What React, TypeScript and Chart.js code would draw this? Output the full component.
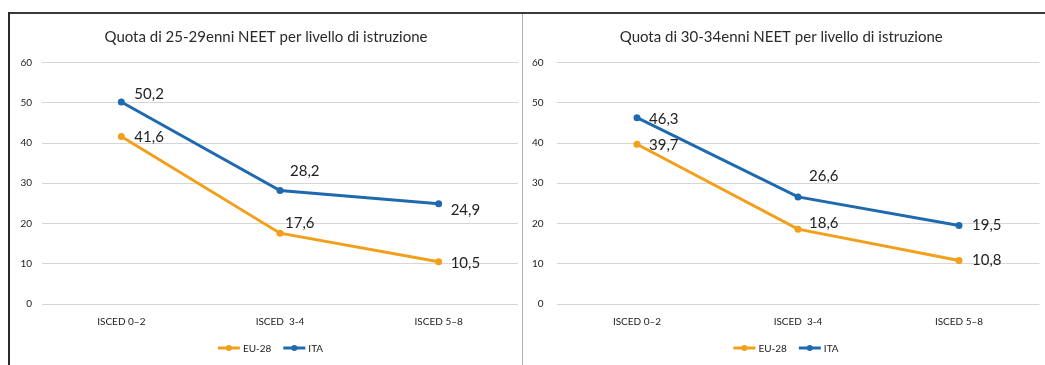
import React, { useEffect, useRef } from "react";
import { Chart, registerables } from "chart.js";
Chart.register(...registerables);

const categories = ["ISCED 0–2", "ISCED  3-4", "ISCED 5–8"];
const seriesNames = ["EU-28", "ITA"];
const eu28_25_29 = [41.6, 17.6, 10.5];
const ita_25_29 = [50.2, 28.2, 24.9];
const eu28_30_34 = [39.7, 18.6, 10.8];
const ita_30_34 = [46.3, 26.6, 19.5];
const titles = [
  "Quota di 25-29enni NEET per livello di istruzione",
  "Quota di 30-34enni NEET per livello di istruzione",
];
const yMin = 0;
const yMax = 60;
const yStep = 10;

const ORANGE = "#F2A01C";
const BLUE = "#1F6AAE";
const FONT = "Lato, 'Open Sans', sans-serif";

const fmt = (v: number) => v.toFixed(1).replace(".", ",");

const pointLabelsPlugin = {
  id: "pointLabels",
  afterDatasetsDraw(chart: any, _args: any, opts: any) {
    const ctx = chart.ctx;
    ctx.save();
    ctx.font = `15px ${FONT}`;
    ctx.fillStyle = "#222";
    ctx.textAlign = "left";
    ctx.textBaseline = "middle";
    chart.data.datasets.forEach((ds: any, di: number) => {
      const meta = chart.getDatasetMeta(di);
      meta.data.forEach((pt: any, i: number) => {
        const off = (opts.offsets && opts.offsets[di] && opts.offsets[di][i]) || [10, 0];
        ctx.fillText(fmt(ds.data[i]), pt.x + off[0], pt.y + off[1]);
      });
    });
    ctx.restore();
  },
};

const lineLegendPlugin = {
  id: "lineLegend",
  afterDraw(chart: any, _args: any, opts: any) {
    const ctx = chart.ctx;
    ctx.save();
    ctx.font = `10px ${FONT}`;
    const lineW = 22;
    const gap = 3;
    const itemGap = 12;
    const items = chart.data.datasets.map((ds: any) => ({
      label: ds.label,
      color: ds.borderColor,
      w: lineW + gap + ctx.measureText(ds.label).width,
    }));
    const total = items.reduce((s: number, it: any) => s + it.w, 0) + itemGap * (items.length - 1);
    let x = chart.width / 2 - total / 2 + (opts.shift || 0);
    const y = opts.y;
    items.forEach((it: any) => {
      ctx.strokeStyle = it.color;
      ctx.lineWidth = 3;
      ctx.beginPath();
      ctx.moveTo(x, y);
      ctx.lineTo(x + lineW, y);
      ctx.stroke();
      ctx.fillStyle = it.color;
      ctx.beginPath();
      ctx.arc(x + lineW / 2, y, 3, 0, Math.PI * 2);
      ctx.fill();
      ctx.fillStyle = "#222";
      ctx.textAlign = "left";
      ctx.textBaseline = "middle";
      ctx.fillText(it.label, x + lineW + gap, y + 0.5);
      x += it.w + itemGap;
    });
    ctx.restore();
  },
};

function makeConfig(title: string, eu: number[], ita: number[], lay: any): any {
  return {
    type: "line",
    data: {
      labels: categories,
      datasets: [
        {
          label: seriesNames[0],
          data: eu,
          borderColor: ORANGE,
          backgroundColor: ORANGE,
          borderWidth: 3,
          pointRadius: 3.5,
          pointBorderWidth: 0,
          tension: 0,
        },
        {
          label: seriesNames[1],
          data: ita,
          borderColor: BLUE,
          backgroundColor: BLUE,
          borderWidth: 3,
          pointRadius: 3.5,
          pointBorderWidth: 0,
          tension: 0,
        },
      ],
    },
    options: {
      responsive: false,
      animation: false,
      devicePixelRatio: 1,
      layout: { padding: { left: 0, right: lay.rightPad, top: 0, bottom: 31 } },
      plugins: {
        legend: { display: false },
        tooltip: { enabled: false },
        title: {
          display: true,
          text: title,
          color: "#2a2a2a",
          font: { family: FONT, size: 15, weight: "normal" },
          padding: { top: 14, bottom: 16.5 },
        },
        pointLabels: { offsets: lay.offsets },
        lineLegend: { y: 334, shift: lay.legendShift },
      },
      scales: {
        x: {
          offset: true,
          grid: { display: false, drawTicks: false },
          border: { display: false },
          ticks: { color: "#222", font: { family: FONT, size: 10 }, padding: 12 },
          afterFit(s: any) {
            s.height = 30;
          },
        },
        y: {
          min: yMin,
          max: yMax,
          ticks: {
            stepSize: yStep,
            color: "#222",
            font: { family: FONT, size: 10 },
            padding: lay.yPad,
          },
          grid: { color: "#d6d6d6", lineWidth: 1, drawTicks: false },
          border: { display: false },
          afterFit(s: any) {
            s.width = lay.yWidth;
          },
        },
      },
    },
    plugins: [pointLabelsPlugin, lineLegendPlugin],
  };
}

function ChartPanel(props: { config: any; width: number; height: number; left: number; top: number }) {
  const ref = useRef<HTMLCanvasElement | null>(null);
  useEffect(() => {
    if (!ref.current) return;
    const ch = new Chart(ref.current, props.config);
    return () => ch.destroy();
  }, []);
  return (
    <canvas
      ref={ref}
      width={props.width}
      height={props.height}
      style={{ position: "absolute", left: props.left, top: props.top, width: props.width, height: props.height }}
    />
  );
}

const leftLayout = {
  yWidth: 31,
  yPad: 10,
  rightPad: 1,
  legendShift: 4,
  offsets: [
    [[13, 1], [5, -10], [12, 1]],
    [[13, -8], [10, -19], [12, 6]],
  ],
};
const rightLayout = {
  yWidth: 33.5,
  yPad: 13,
  rightPad: 5.5,
  legendShift: 2,
  offsets: [
    [[12, 1], [11, -6], [13, 0]],
    [[12, 2], [11, -21], [13, 0]],
  ],
};

export default function App() {
  const leftCfg = makeConfig(titles[0], eu28_25_29, ita_25_29, leftLayout);
  const rightCfg = makeConfig(titles[1], eu28_30_34, ita_30_34, rightLayout);
  return (
    <div style={{ position: "absolute", left: 0, top: 0, width: 1045, height: 365, background: "#fff", overflow: "hidden" }}>
      <div style={{ position: "absolute", left: 9, top: 12, width: 1036, height: 2, background: "#3a3a3a" }} />
      <div style={{ position: "absolute", left: 8, top: 12, width: 2, height: 353, background: "#2a2a2a" }} />
      <div style={{ position: "absolute", left: 522, top: 14, width: 1, height: 351, background: "#b0b0b0" }} />
      <ChartPanel config={leftCfg} width={511} height={351} left={11} top={14} />
      <ChartPanel config={rightCfg} width={522} height={351} left={523} top={14} />
    </div>
  );
}
